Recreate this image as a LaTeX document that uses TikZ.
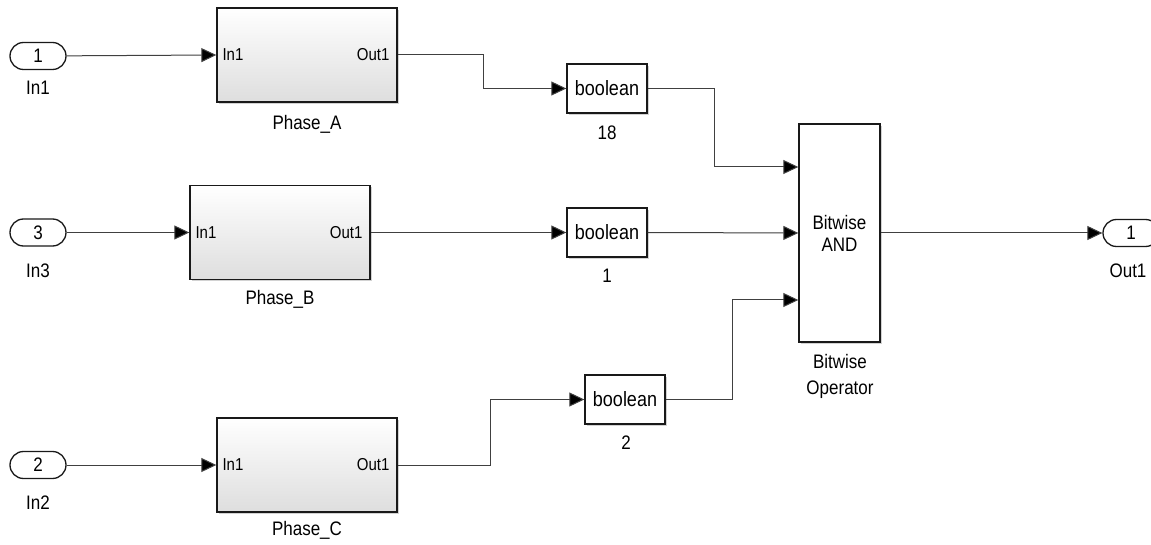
\documentclass[tikz,border=0pt]{standalone}
\usepackage{fontspec}
\usepackage{graphicx}
\setmainfont{Liberation Sans}
\usetikzlibrary{arrows.meta,shadows}
\newcommand{\tx}[1]{\scalebox{1}[1.15]{#1}}
\begin{document}
\begin{tikzpicture}[x=1pt,y=-1pt,
  lbl/.style={font=\fontsize{17}{20}\selectfont, inner sep=0pt, align=center},
  small/.style={font=\fontsize{15}{18}\selectfont, inner sep=0pt},
  sub/.style={draw=black!90, line width=1.4pt, top color=white, bottom color=black!13,
    minimum width=180pt, minimum height=94pt, inner sep=0pt,
    drop shadow={shadow xshift=2pt, shadow yshift=-2pt, opacity=0.35}},
  blk/.style={draw=black!90, line width=1.4pt, fill=white, inner sep=0pt,
    drop shadow={shadow xshift=2pt, shadow yshift=-2pt, opacity=0.35}},
  conv/.style={blk, minimum width=80pt, minimum height=49pt, font=\fontsize{18}{20}\selectfont},
  port/.style={draw=black!90, line width=1.3pt, rounded corners=13.5pt, fill=white,
    minimum width=56pt, minimum height=27pt, inner sep=0pt, font=\fontsize{17}{20}\selectfont},
  wire/.style={draw=black!75, line width=1pt, -{Triangle[length=15pt,width=14pt,fill=black]}}
]
\useasboundingbox (0,0) rectangle (1151,545);
\clip (0,0) rectangle (1151,545);
\fill[white] (0,0) rectangle (1151,545);

% inports
\node[port] (in1) at (38,56) {\tx{1}};
\node[lbl] (in1l) at (38,88) {\tx{In1}};
\node[port] (in3) at (38,232.5) {\tx{3}};
\node[lbl] (in3l) at (38,271) {\tx{In3}};
\node[port] (in2) at (38,465) {\tx{2}};
\node[lbl] (in2l) at (38,503) {\tx{In2}};

% subsystems
\node[sub] (phA) at (307,55) {};
\node[small, anchor=west] (phAi) at ([xshift=6pt]phA.west) {\tx{In1}};
\node[small, anchor=east] (phAo) at ([xshift=-8pt]phA.east) {\tx{Out1}};
\node[lbl] (phAl) at (307,124) {\tx{Phase\_A}};

\node[sub] (phB) at (280,232.5) {};
\node[small, anchor=west] (phBi) at ([xshift=6pt]phB.west) {\tx{In1}};
\node[small, anchor=east] (phBo) at ([xshift=-8pt]phB.east) {\tx{Out1}};
\node[lbl] (phBl) at (280,299) {\tx{Phase\_B}};

\node[sub] (phC) at (307,465) {};
\node[small, anchor=west] (phCi) at ([xshift=6pt]phC.west) {\tx{In1}};
\node[small, anchor=east] (phCo) at ([xshift=-8pt]phC.east) {\tx{Out1}};
\node[lbl] (phCl) at (307,530) {\tx{Phase\_C}};

% conversions
\node[conv] (b18) at (607,88.5) {\tx{boolean}};
\node[lbl] (b18l) at (607,133) {\tx{18}};
\node[conv] (b1) at (607,232.5) {\tx{boolean}};
\node[lbl] (b1l) at (607,276) {\tx{1}};
\node[conv] (b2) at (625,399.5) {\tx{boolean}};
\node[lbl] (b2l) at (626,443) {\tx{2}};

% bitwise operator
\node[blk, minimum width=81pt, minimum height=218pt, lbl] (and) at (839.5,233) {\tx{Bitwise}\\[2pt]\tx{AND}};
\node[lbl] (andl) at (840,376) {\tx{Bitwise}\\[6pt]\tx{Operator}};
\coordinate (a1) at (and.west |- 0,167);
\coordinate (a2) at (and.west |- 0,233);
\coordinate (a3) at (and.west |- 0,300);

% outport
\node[port] (out1) at (1131,233) {\tx{1}};
\node[lbl] (out1l) at (1128,271) {\tx{Out1}};

% wires
\draw[wire] (in1) -- (phA.west);
\draw[wire] (in3) -- (phB.west);
\draw[wire] (in2) -- (phC.west);
\draw[wire] (phA.east) -- ++(86,0) |- (b18.west);
\draw[wire] (phB.east) -- (b1.west);
\draw[wire] (phC.east) -- ++(93,0) |- (b2.west);
\draw[wire] (b18.east) -- ++(67,0) |- (a1);
\draw[wire] (b1.east) -- (a2);
\draw[wire] (b2.east) -- ++(67,0) |- (a3);
\draw[wire] (and.east) -- (out1.west);
\end{tikzpicture}
\end{document}
